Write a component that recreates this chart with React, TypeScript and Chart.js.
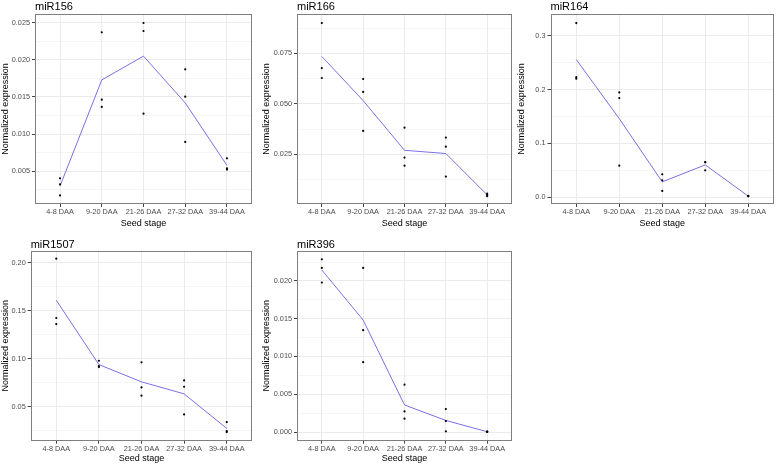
import React, { useEffect, useRef } from 'react';
import { Chart, registerables } from 'chart.js';

Chart.register(...registerables);
Chart.defaults.font.family = '"Liberation Sans", Arial, Helvetica, sans-serif';

// ---------- data ----------
const categories = ['4-8 DAA', '9-20 DAA', '21-26 DAA', '27-32 DAA', '39-44 DAA'];

const miR156Points = [
  [0.00406, 0.00325, 0.00175],
  [0.0237, 0.01464, 0.01366],
  [0.02496, 0.02388, 0.01276],
  [0.01872, 0.01505, 0.00895],
  [0.00675, 0.0054, 0.00523],
];
const miR156Mean = [0.00302, 0.0173, 0.0205, 0.0142, 0.0058];

const miR166Points = [
  [0.09, 0.0677, 0.0628],
  [0.0623, 0.0559, 0.0366],
  [0.0382, 0.0234, 0.0194],
  [0.0333, 0.0288, 0.014],
  [0.0055, 0.0049, 0.0043],
];
const miR166Mean = [0.0735, 0.0516, 0.027, 0.0254, 0.0049];

const miR164Points = [
  [0.3235, 0.2233, 0.2202],
  [0.1948, 0.1843, 0.0588],
  [0.0427, 0.0316, 0.0118],
  [0.0656, 0.065, 0.0501],
  [0.0025, 0.0022, 0.002],
];
const miR164Mean = [0.2557, 0.146, 0.0287, 0.0602, 0.0022];

const miR1507Points = [
  [0.2042, 0.1424, 0.1361],
  [0.0979, 0.0924, 0.0913],
  [0.0962, 0.0701, 0.0615],
  [0.0774, 0.0708, 0.042],
  [0.034, 0.0246, 0.0236],
];
const miR1507Mean = [0.1609, 0.0939, 0.0759, 0.0634, 0.0274];

const miR396Points = [
  [0.02286, 0.02172, 0.01978],
  [0.02172, 0.01348, 0.00925],
  [0.00626, 0.00273, 0.00176],
  [0.00304, 0.00145, 0.00009],
  [0.00005, 0.00004, 0.00003],
];
const miR396Mean = [0.02145, 0.01482, 0.00358, 0.00153, 0.00004];

// tick labels
const ticks156 = [0.005, 0.01, 0.015, 0.02, 0.025];
const minor156 = [0.0025, 0.0075, 0.0125, 0.0175, 0.0225];
const ticks166 = [0.025, 0.05, 0.075];
const minor166 = [0.0125, 0.0375, 0.0625, 0.0875];
const ticks164 = [0, 0.1, 0.2, 0.3];
const minor164 = [0.05, 0.15, 0.25];
const ticks1507 = [0.05, 0.1, 0.15, 0.2];
const minor1507 = [0.025, 0.075, 0.125, 0.175];
const ticks396 = [0, 0.005, 0.01, 0.015, 0.02];
const minor396 = [0.0025, 0.0075, 0.0125, 0.0175, 0.0225];

// ---------- panel layout ----------
type Spec = {
  title: string;
  points: number[][];
  means: number[];
  yMin: number;
  yMax: number;
  major: number[];
  minor: number[];
  decimals: number;
  box: [number, number, number, number]; // left, top, width, height
  plot: [number, number, number, number]; // left, top, right, bottom (relative)
  padLeft: number;
  padTop: number;
  xTitlePad: number;
};

const specs: Spec[] = [
  { title: 'miR156', points: miR156Points, means: miR156Mean, yMin: 0.0006, yMax: 0.02617, major: ticks156, minor: minor156, decimals: 3,
    box: [0, 0, 258, 230], plot: [35, 14, 252, 204], padLeft: 0, padTop: 1.5, xTitlePad: 1 },
  { title: 'miR166', points: miR166Points, means: miR166Mean, yMin: 0.0004, yMax: 0.0945, major: ticks166, minor: minor166, decimals: 3,
    box: [258, 0, 258, 230], plot: [39, 14, 256, 204], padLeft: 3.6, padTop: 1.5, xTitlePad: 1 },
  { title: 'miR164', points: miR164Points, means: miR164Mean, yMin: -0.0124, yMax: 0.3403, major: ticks164, minor: minor164, decimals: 1,
    box: [516, 0, 262, 230], plot: [34.5, 14, 260, 204], padLeft: 0, padTop: 1.5, xTitlePad: 1 },
  { title: 'miR1507', points: miR1507Points, means: miR1507Mean, yMin: 0.0146, yMax: 0.2125, major: ticks1507, minor: minor1507, decimals: 2,
    box: [0, 230, 258, 234], plot: [30.7, 20.7, 252.3, 210.7], padLeft: 0, padTop: 9.5, xTitlePad: 0 },
  { title: 'miR396', points: miR396Points, means: miR396Mean, yMin: -0.00115, yMax: 0.024, major: ticks396, minor: minor396, decimals: 3,
    box: [258, 230, 258, 234], plot: [39, 20.7, 256, 210.7], padLeft: 3.6, padTop: 9.5, xTitlePad: 0 },
];

const LINE_COLOR = '#7b6fe6';
const GRID_COLOR = '#ebebeb';
const TICK_TEXT = '#4d4d4d';

const borderPlugin = {
  id: 'panelBorder',
  afterDatasetsDraw(chart: any) {
    const { ctx, chartArea } = chart;
    ctx.save();
    ctx.strokeStyle = '#7f7f7f';
    ctx.lineWidth = 1;
    ctx.strokeRect(
      Math.round(chartArea.left) + 0.5,
      Math.round(chartArea.top) + 0.5,
      Math.round(chartArea.right) - Math.round(chartArea.left) - 1,
      Math.round(chartArea.bottom) - Math.round(chartArea.top) - 1
    );
    ctx.restore();
  },
};

function Panel({ spec }: { spec: Spec }) {
  const ref = useRef<HTMLCanvasElement>(null);
  const [bl, bt, bw, bh] = spec.box;
  const [pl, pt, pr, pb] = spec.plot;

  useEffect(() => {
    if (!ref.current) return;
    const chart = new Chart(ref.current, {
      type: 'scatter',
      data: {
        datasets: [
          {
            label: 'mean',
            data: spec.means.map((v, i) => ({ x: i, y: v })),
            showLine: true,
            borderColor: LINE_COLOR,
            backgroundColor: LINE_COLOR,
            borderWidth: 1,
            pointRadius: 0,
            order: 2,
          },
          {
            label: 'replicates',
            data: spec.points.flatMap((reps, i) => reps.map((v) => ({ x: i, y: v }))),
            pointRadius: 1.1,
            pointBackgroundColor: '#000',
            pointBorderWidth: 0,
            order: 1,
          },
        ],
      },
      options: {
        animation: false,
        responsive: false,
        layout: { padding: { left: spec.padLeft, top: spec.padTop, right: bw - pr, bottom: 0 } },
        plugins: {
          legend: { display: false },
          tooltip: { enabled: false },
          title: {
            display: true,
            text: spec.title,
            align: 'start',
            fullSize: false,
            color: '#000',
            font: { size: 11, weight: 'normal', lineHeight: 1 },
            padding: { top: 0, bottom: pt - spec.padTop - 11 },
          },
        },
        scales: {
          x: {
            type: 'linear',
            min: -0.6,
            max: 4.6,
            afterBuildTicks: (s: any) => {
              s.ticks = categories.map((_, i) => ({ value: i }));
            },
            afterFit: (s: any) => {
              s.height = bh - pb;
            },
            ticks: {
              callback: (v: any) => categories[Math.round(v)] ?? '',
              autoSkip: false,
              maxRotation: 0,
              padding: 0.5,
              color: TICK_TEXT,
              font: { size: 7.3 },
            },
            grid: { color: GRID_COLOR, lineWidth: 1, tickColor: '#444', tickLength: 3 },
            border: { display: false },
            title: {
              display: true,
              text: 'Seed stage',
              color: '#000',
              font: { size: 9 },
              padding: { top: 0, bottom: spec.xTitlePad },
            },
          },
          y: {
            type: 'linear',
            min: spec.yMin,
            max: spec.yMax,
            afterBuildTicks: (s: any) => {
              const all = [
                ...spec.major.map((v) => ({ value: v, minor: false })),
                ...spec.minor.map((v) => ({ value: v, minor: true })),
              ].sort((a, b) => a.value - b.value);
              s.ticks = all;
            },
            afterFit: (s: any) => {
              s.width = pl - spec.padLeft;
            },
            ticks: {
              autoSkip: false,
              padding: 2,
              color: TICK_TEXT,
              font: { size: 7.3 },
              callback: function (this: any, v: any, idx: number, ts: any[]) {
                if (ts[idx] && ts[idx].minor) return '';
                return Number(v).toFixed(spec.decimals);
              },
            },
            grid: {
              color: GRID_COLOR,
              lineWidth: (c: any) => (c.tick && c.tick.minor ? 0.5 : 1),
              tickColor: (c: any) => (c.tick && c.tick.minor ? 'rgba(0,0,0,0)' : '#444'),
              tickLength: 3,
            },
            border: { display: false },
            title: {
              display: true,
              text: 'Normalized expression',
              color: '#000',
              font: { size: 9 },
              padding: 0,
            },
          },
        },
      } as any,
      plugins: [borderPlugin],
    });
    return () => chart.destroy();
  }, []);

  return (
    <canvas
      ref={ref}
      width={bw}
      height={bh}
      style={{ position: 'absolute', left: bl, top: bt, width: bw, height: bh }}
    />
  );
}

export default function App() {
  return (
    <div style={{ position: 'absolute', left: 0, top: 0, width: 778, height: 464, background: '#fff' }}>
      {specs.map((s) => (
        <Panel key={s.title} spec={s} />
      ))}
    </div>
  );
}
